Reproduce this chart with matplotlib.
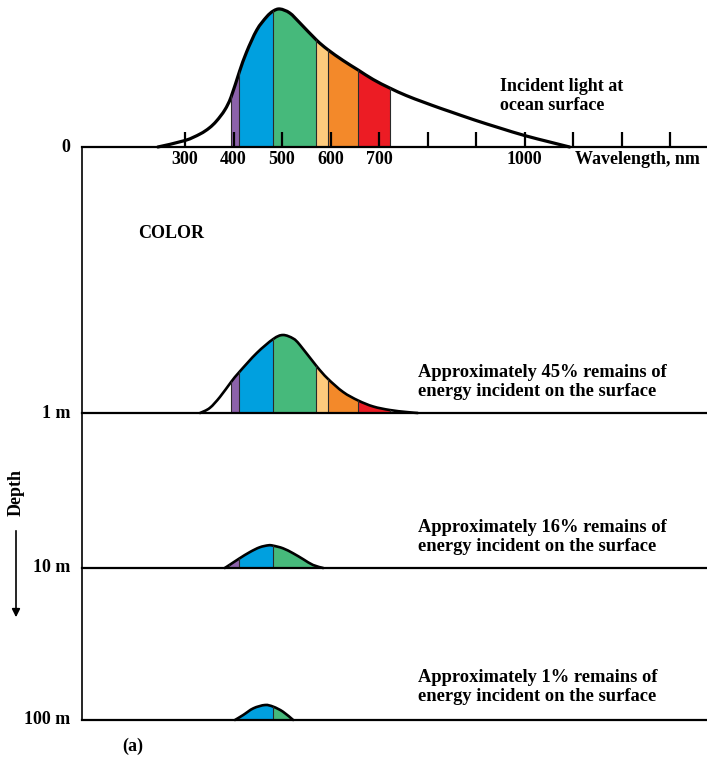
import numpy as np
import matplotlib

matplotlib.use('Agg')

import matplotlib.pyplot as plt
from matplotlib import transforms
from matplotlib.path import Path
from matplotlib.patches import PathPatch

# spectra: wavelength (nm) and height of the curve
surf_nm = [244, 300, 331, 350, 365, 382, 395, 412, 427, 448, 468, 482, 496, 516, 537,
           571, 594, 626, 657, 688, 722, 756, 791, 825, 846, 897, 949, 1000, 1052, 1093]
surf_h = [0, 6.5, 13, 19, 26, 37, 50, 75, 95, 117, 130, 136, 138, 134, 124,
          107, 97.5, 86.5, 77, 67.5, 59, 51.5, 45, 39, 35.5, 27, 19, 11.5, 5, 0]

m1_nm = [331, 351, 372, 395, 412, 448, 482, 502, 523, 537, 571, 594, 626, 657, 688, 722, 756, 780]
m1_h = [0, 5, 16, 31, 41, 60, 74, 78, 74.5, 68, 47, 34.5, 21, 12.5, 6.5, 3, 1, 0]

m10_nm = [382, 391, 412, 434, 454, 472, 482, 502, 523, 544, 564, 585]
m10_h = [0, 2.8, 9.5, 16, 20.7, 22.7, 22.3, 19.7, 14.7, 8.7, 3, 0]

m100_nm = [403, 420, 441, 465, 482, 502, 523]
m100_h = [0, 5, 11.7, 15, 13.3, 8.3, 0]

# colour bands (colour, from nm, to nm)
violet, blue, green = '#8C62AA', '#00A0DF', '#46B97B'
yellow, orange, red = '#FECB7D', '#F3892A', '#EC1C24'
bands_full = [(violet, 395, 412), (blue, 412, 482), (green, 482, 571),
              (yellow, 571, 594), (orange, 594, 657), (red, 657, 722)]
bands_10 = [(violet, 391, 412), (blue, 412, 482), (green, 482, 585)]
bands_100 = [(blue, 403, 482), (green, 482, 523)]

tick_nm = [300, 400, 500, 600, 700, 800, 900, 1000, 1100, 1200, 1300]
tick_labels = ['300', '400', '500', '600', '700', '', '', '1000', '', '', '']

depth_labels = ['0', '1 m', '10 m', '100 m']
baselines = [147, 413, 568, 720]
notes = ['Approximately 45% remains of\nenergy incident on the surface',
         'Approximately 16% remains of\nenergy incident on the surface',
         'Approximately 1% remains of\nenergy incident on the surface']

W, H = 707, 761
fig = plt.figure(figsize=(W / 100, H / 100), dpi=100)
ax = fig.add_axes([0, 0, 1, 1])
ax.set_xlim(300 - 185 / 0.485, 300 + (W - 185) / 0.485)
ax.set_ylim(H, 0)
ax.axis('off')
tr = transforms.blended_transform_factory(ax.transAxes, ax.transData)

font = dict(family='Liberation Serif', weight='bold', fontsize=13)


def smooth_path(x, y, close_to=None):
    # catmull-rom through the read points, drawn as bezier segments
    p = np.column_stack([x, y])
    q = np.vstack([p[0], p, p[-1]])
    verts = [p[0]]
    codes = [Path.MOVETO]
    for i in range(1, len(q) - 2):
        c1 = q[i] + (q[i + 1] - q[i - 1]) / 6
        c2 = q[i + 1] - (q[i + 2] - q[i]) / 6
        verts += [c1, c2, q[i + 1]]
        codes += [Path.CURVE4] * 3
    if close_to is not None:
        verts += [(x[-1], close_to), (x[0], close_to), p[0]]
        codes += [Path.LINETO, Path.LINETO, Path.CLOSEPOLY]
    return Path(verts, codes)


def spectrum(nm, h, base, bands, lw):
    x = np.array(nm, dtype=float)
    y = base - np.array(h, dtype=float)
    area = PathPatch(smooth_path(x, y, base), fc='none', ec='none')
    ax.add_patch(area)
    top = base - max(h) - 10
    for c, lo, hi in bands:
        f = ax.fill_between([lo, hi], [top, top], [base, base], color=c, lw=0)
        f.set_clip_path(area)
    edges = sorted(set([b[1] for b in bands] + [b[2] for b in bands]))
    for e in edges:
        ln, = ax.plot([e, e], [base, top], color='#2a2a2a', lw=0.8)
        ln.set_clip_path(area)
    ax.add_patch(PathPatch(smooth_path(x, y), fc='none', ec='black', lw=lw,
                           capstyle='round', joinstyle='round'))


spectrum(surf_nm, surf_h, baselines[0], bands_full, 2.3)
spectrum(m1_nm, m1_h, baselines[1], bands_full, 1.9)
spectrum(m10_nm, m10_h, baselines[2], bands_10, 1.9)
spectrum(m100_nm, m100_h, baselines[3], bands_100, 1.9)

# frame lines
for b in baselines:
    ax.plot([82 / W, 1], [b, b], color='black', lw=1.6, transform=tr)
ax.plot([82 / W, 82 / W], [baselines[0], baselines[-1]], color='black', lw=1.2, transform=tr)

# wavelength ticks
ax.vlines(tick_nm, baselines[0] - 15, baselines[0], color='black', lw=1.6)
for t, lab in zip(tick_nm, tick_labels):
    ax.text(t, 160, lab, ha='center', va='center', **font)
ax.text(575 / W, 160, 'Wavelength, nm', ha='left', va='center', transform=tr, **font)

for lab, b in zip(depth_labels, baselines):
    ax.text(70 / W, b, lab, ha='right', va='center', transform=tr, **font)

ax.text(500 / W, 96, 'Incident light at\nocean surface', ha='left', va='center',
        linespacing=1.15, transform=tr, **font)
ax.text(138 / W, 234, 'COLOR', ha='left', va='center', transform=tr, **font)
note_font = dict(font, fontsize=13.3)
for note, yc in zip(notes, [382, 537, 687]):
    ax.text(418 / W, yc, note, ha='left', va='center', linespacing=1.1, transform=tr, **note_font)

ax.text(16 / W, 492, 'Depth', rotation=90, ha='center', va='center', transform=tr, **font)
ax.annotate('', xy=(16 / W, 620), xytext=(16 / W, 528), xycoords=tr, textcoords=tr,
            arrowprops=dict(arrowstyle='-|>', color='black', lw=1.2, mutation_scale=12))
ax.text(122 / W, 746, '(a)', ha='left', va='center', transform=tr, **font)

fig.savefig('out.png', dpi=100)
